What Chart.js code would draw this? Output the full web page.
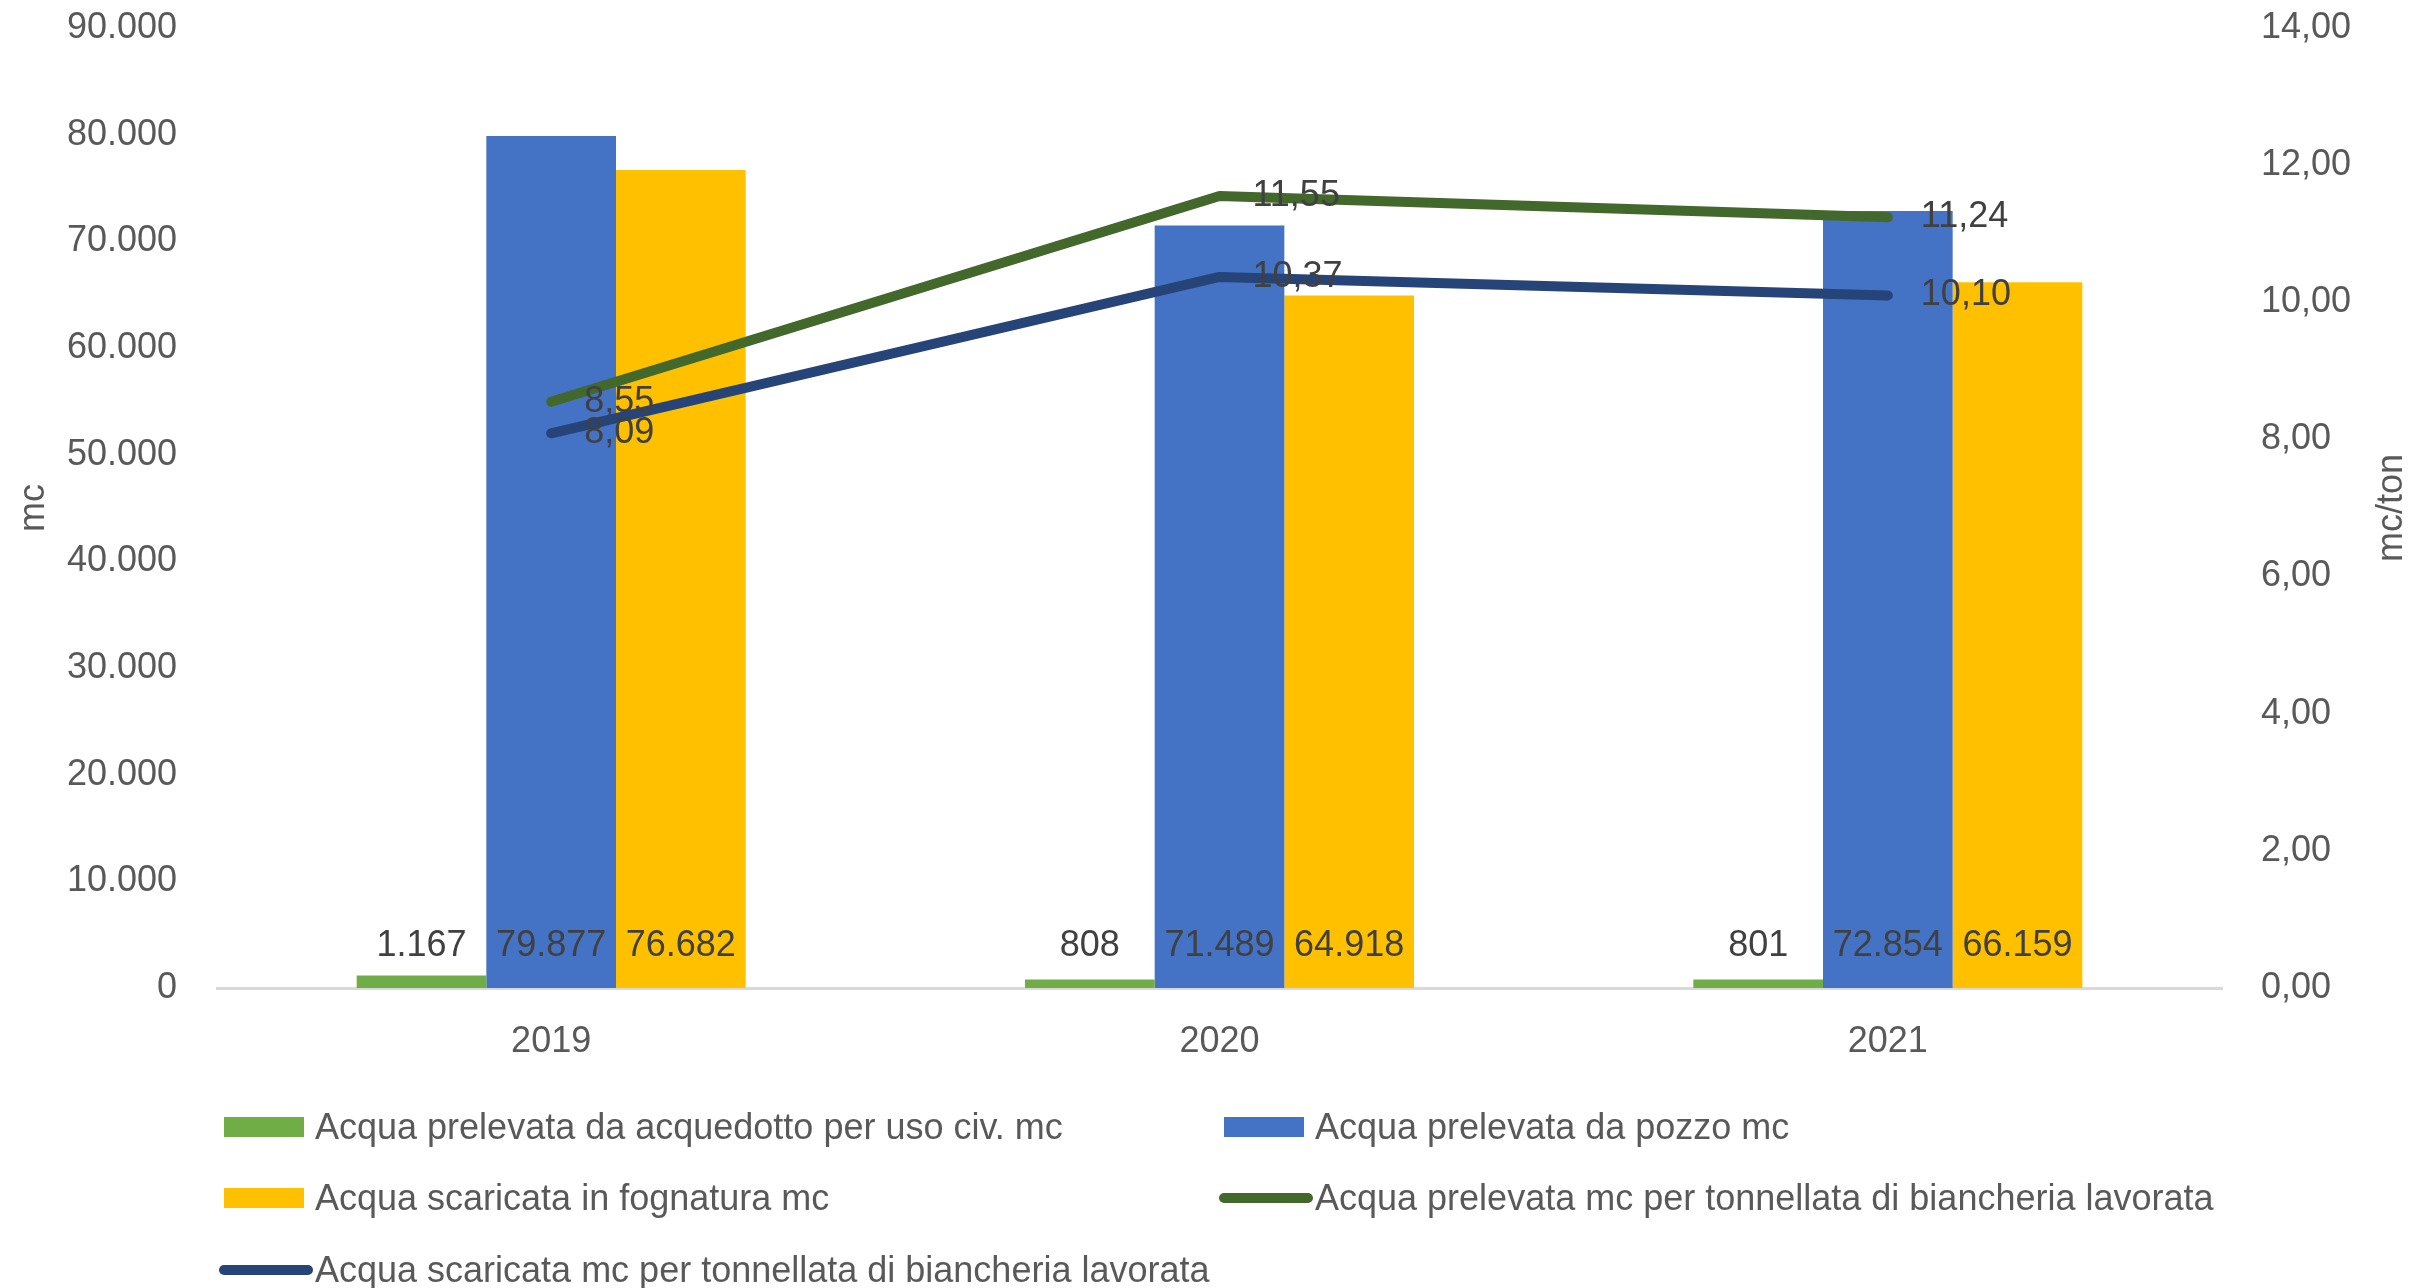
<!DOCTYPE html>
<html>
<head>
<meta charset="utf-8">
<script src="https://cdn.jsdelivr.net/npm/chart.js@4.4.1/dist/chart.umd.min.js"></script>
<style>
  html, body { margin: 0; padding: 0; background: #ffffff; }
  #wrap { position: relative; width: 2420px; height: 1288px; overflow: hidden; }
  #c { position: absolute; left: 0; top: 0; }
  .lg { position: absolute; display: flex; align-items: center; transform: translateY(-50%);
        font: 36px "Liberation Sans", Arial, sans-serif; color: #595959; white-space: nowrap; }
  .sw { display: inline-block; flex: none; }
</style>
</head>
<body>
<div id="wrap">
  <canvas id="c" width="2420" height="1288"></canvas>
  <div id="legend"></div>
</div>
<script>
// Water consumption by year
const years = ['2019', '2020', '2021'];
const acquedotto = [1167, 808, 801];
const pozzo = [79877, 71489, 72854];
const fognatura = [76682, 64918, 66159];
const prelevataPerTon = [8.55, 11.55, 11.24];
const scaricataPerTon = [8.09, 10.37, 10.10];

// Axis ticks
const mcTicks = [0, 10000, 20000, 30000, 40000, 50000, 60000, 70000, 80000, 90000];
const tonTicks = [0, 2, 4, 6, 8, 10, 12, 14];

const FONT = '"Liberation Sans", Arial, sans-serif';
const TICK_COLOR = '#595959';
const LABEL_COLOR = '#404040';

function fmtThousands(n) {
  return String(Math.round(n)).replace(/\B(?=(\d{3})+(?!\d))/g, '.');
}
function fmtDec(n) {
  return Number(n).toFixed(2).replace('.', ',');
}

// Value labels: bar values just above the base, line values to the right of each point
const valueLabels = {
  id: 'valueLabels',
  afterDatasetsDraw(chart) {
    const ctx = chart.ctx;
    ctx.save();
    ctx.font = '36px ' + FONT;
    ctx.fillStyle = LABEL_COLOR;
    chart.data.datasets.forEach((ds, di) => {
      const meta = chart.getDatasetMeta(di);
      if (meta.hidden) return;
      meta.data.forEach((el, i) => {
        const v = ds.data[i];
        if (ds.type === 'bar') {
          ctx.textAlign = 'center';
          ctx.textBaseline = 'middle';
          ctx.fillText(fmtThousands(v), el.x, el.base - 42);
        } else {
          ctx.textAlign = 'left';
          ctx.textBaseline = 'middle';
          ctx.fillText(fmtDec(v), el.x + 33, el.y);
        }
      });
    });
    ctx.restore();
  }
};

// Axis titles, both reading bottom to top
const axisTitles = {
  id: 'axisTitles',
  afterDraw(chart) {
    const ctx = chart.ctx;
    const midY = (chart.chartArea.top + chart.chartArea.bottom) / 2;
    ctx.save();
    ctx.font = '36px ' + FONT;
    ctx.fillStyle = TICK_COLOR;
    ctx.textAlign = 'center';
    ctx.textBaseline = 'middle';
    [['mc', 34], ['mc/ton', 2392]].forEach(([t, x]) => {
      ctx.save();
      ctx.translate(x, midY);
      ctx.rotate(-Math.PI / 2);
      ctx.fillText(t, 0, 0);
      ctx.restore();
    });
    ctx.restore();
  }
};

// Fixed side widths for the value axes; top inset kept small
function fitSide(width) {
  return function (s) {
    s.width = width;
    s.paddingTop = 28;
    s.paddingBottom = 0;
  };
}

const chart = new Chart(document.getElementById('c'), {
  data: {
    labels: years,
    datasets: [
      { type: 'bar', label: 'Acqua prelevata da acquedotto per uso civ. mc', data: acquedotto,
        backgroundColor: '#70AD47', yAxisID: 'y', order: 1 },
      { type: 'bar', label: 'Acqua prelevata da pozzo mc', data: pozzo,
        backgroundColor: '#4472C4', yAxisID: 'y', order: 1 },
      { type: 'bar', label: 'Acqua scaricata in fognatura mc', data: fognatura,
        backgroundColor: '#FFC000', yAxisID: 'y', order: 1 },
      { type: 'line', label: 'Acqua prelevata mc per tonnellata di biancheria lavorata', data: prelevataPerTon,
        borderColor: '#43682B', backgroundColor: '#43682B', borderWidth: 10, pointRadius: 0,
        borderCapStyle: 'round', borderJoinStyle: 'round', tension: 0, yAxisID: 'y1', order: 0 },
      { type: 'line', label: 'Acqua scaricata mc per tonnellata di biancheria lavorata', data: scaricataPerTon,
        borderColor: '#264478', backgroundColor: '#264478', borderWidth: 10, pointRadius: 0,
        borderCapStyle: 'round', borderJoinStyle: 'round', tension: 0, yAxisID: 'y1', order: 0 }
    ]
  },
  options: {
    responsive: false,
    animation: false,
    devicePixelRatio: 1,
    layout: { padding: { top: 28, left: 0, right: 0, bottom: 0 } },
    datasets: { bar: { categoryPercentage: 0.582, barPercentage: 1 } },
    plugins: { legend: { display: false }, tooltip: { enabled: false } },
    scales: {
      x: {
        grid: { display: false, drawTicks: false },
        border: { display: true, color: '#D9D9D9', width: 3 },
        ticks: { color: TICK_COLOR, font: { size: 36, family: FONT }, padding: 32 },
        afterFit(s) { s.height = 300; }
      },
      y: {
        position: 'left', min: 0, max: 90000,
        afterBuildTicks(s) { s.ticks = mcTicks.map(v => ({ value: v })); },
        grid: { display: false, drawTicks: false },
        border: { display: false },
        ticks: { color: TICK_COLOR, font: { size: 36, family: FONT }, padding: 40,
                 callback: v => fmtThousands(v) },
        afterFit: fitSide(217)
      },
      y1: {
        position: 'right', min: 0, max: 14,
        afterBuildTicks(s) { s.ticks = tonTicks.map(v => ({ value: v })); },
        grid: { display: false, drawTicks: false },
        border: { display: false },
        ticks: { color: TICK_COLOR, font: { size: 36, family: FONT }, padding: 39,
                 callback: v => fmtDec(v) },
        afterFit: fitSide(198)
      }
    }
  },
  plugins: [valueLabels, axisTitles]
});

// Legend in two columns under the plot
const legendSlots = [
  { left: 224, top: 1127 }, { left: 1224, top: 1127 },
  { left: 224, top: 1198 }, { left: 1219, top: 1198 },
  { left: 219, top: 1270 }
];
const legendEl = document.getElementById('legend');
chart.data.datasets.forEach((ds, i) => {
  const slot = legendSlots[i];
  const item = document.createElement('div');
  item.className = 'lg';
  item.style.left = slot.left + 'px';
  item.style.top = slot.top + 'px';
  const sw = document.createElement('span');
  sw.className = 'sw';
  if (ds.type === 'bar') {
    sw.style.width = '80px'; sw.style.height = '20px';
    sw.style.background = ds.backgroundColor; sw.style.marginRight = '11px';
  } else {
    sw.style.width = '94px'; sw.style.height = '10px'; sw.style.borderRadius = '5px';
    sw.style.background = ds.borderColor; sw.style.marginRight = '2px';
  }
  const tx = document.createElement('span');
  tx.textContent = ds.label;
  item.appendChild(sw);
  item.appendChild(tx);
  legendEl.appendChild(item);
});
</script>
</body>
</html>
